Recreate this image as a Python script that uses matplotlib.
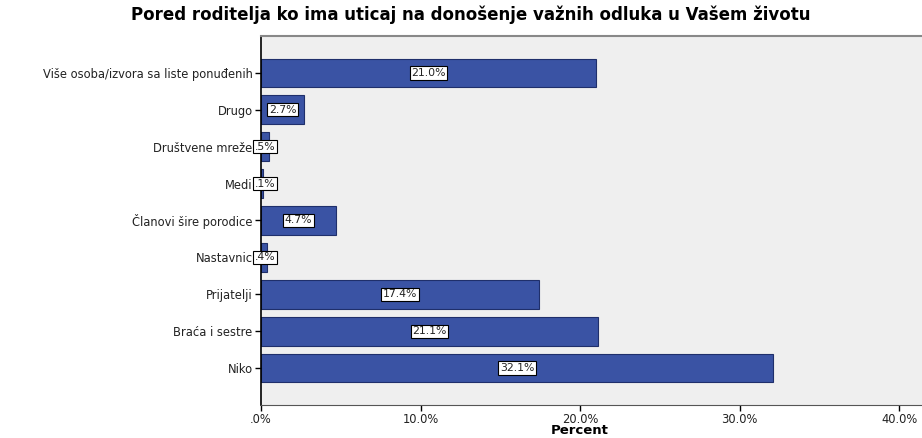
import matplotlib
matplotlib.use("Agg")
import matplotlib.pyplot as plt

categories = ["Više osoba/izvora sa liste ponuđenih", "Drugo", "Društvene mreže", "Medi",
              "Članovi šire porodice", "Nastavnic", "Prijatelji", "Braća i sestre", "Niko"]
values = [21.0, 2.7, 0.5, 0.1, 4.7, 0.4, 17.4, 21.1, 32.1]
value_labels = ["21.0%", "2.7%", ".5%", ".1%", "4.7%", ".4%", "17.4%", "21.1%", "32.1%"]
xticks = [0, 10, 20, 30, 40]
xtick_labels = [".0%", "10.0%", "20.0%", "30.0%", "40.0%"]

plt.rcParams['font.family'] = ['DejaVu Sans']

fig = plt.figure(figsize=(9.22, 4.38), dpi=100)
ax = fig.add_axes([261/922, (438-405)/438, (922-261)/922 + 0.01, (405-36)/438])
ax.set_facecolor("#EFEFEF")

ypos = list(range(len(categories)))
ax.barh(ypos, values, height=0.78, color="#3A53A4", edgecolor="#1F2F6B", linewidth=0.8)
for y, v, lab in zip(ypos, values, value_labels):
    ax.text(max(v / 2, 0.25), y, lab, ha="center", va="center", fontsize=7.8, color="#222222",
            bbox=dict(boxstyle="square,pad=0.15", fc="white", ec="black", lw=0.8))

ax.set_ylim(len(categories), -1)
ax.set_xlim(0, 42.0)
ax.set_yticks(ypos)
ax.set_yticklabels(categories, fontsize=8.3, color="#222222")
ax.set_xticks(xticks)
ax.set_xticklabels(xtick_labels, fontsize=8.3, color="#222222")
ax.tick_params(axis="y", length=4, width=1, pad=2)
ax.tick_params(axis="x", length=4, width=1, pad=2)
ax.spines["left"].set_color("black")
ax.spines["left"].set_linewidth(1.2)
ax.spines["bottom"].set_color("#555555")
ax.spines["top"].set_color("#888888")
ax.spines["top"].set_linewidth(1.5)
ax.spines["right"].set_visible(False)

fig.text(580/922, 1 - 431/438, "Percent", ha="center", va="center",
         fontsize=9.5, fontweight="bold")
fig.text(471/922, 1 - 15/438, "Pored roditelja ko ima uticaj na donošenje važnih odluka u Vašem životu",
         ha="center", va="center", fontsize=12, fontweight="bold")

fig.savefig("out.png", dpi=100)
